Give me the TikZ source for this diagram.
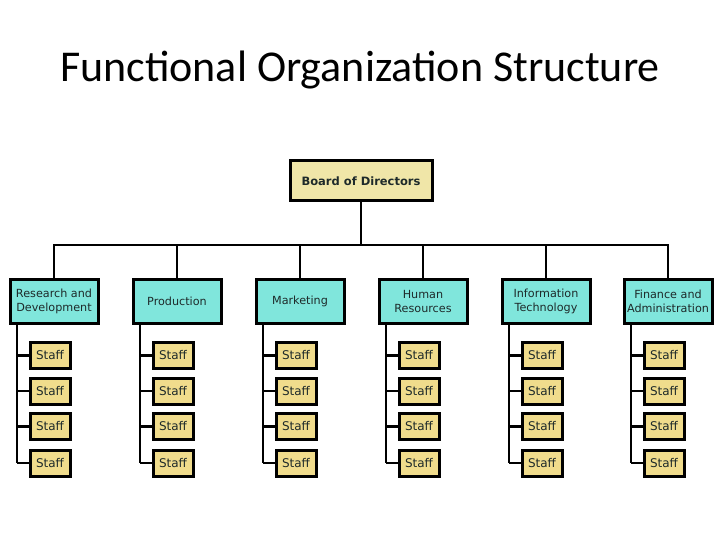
\documentclass[tikz,border=0pt]{standalone}
\usepackage{fontspec}
\setmainfont{DejaVu Sans}
\newfontfamily\titlefont{Carlito}
\definecolor{deptcol}{HTML}{80E6DC}
\definecolor{staffcol}{HTML}{F0DC8C}
\definecolor{boardcol}{HTML}{F0E6A8}
\definecolor{txtcol}{HTML}{1E2A2A}
\begin{document}
\begin{tikzpicture}[x=1pt,y=-1pt,
  box/.style={draw=black,line width=3pt,inner sep=0pt,text=txtcol,align=center},
  deptbox/.style={box,fill=deptcol,minimum width=88pt,minimum height=44pt,font=\fontsize{11.2}{14}\selectfont},
  staffbox/.style={box,fill=staffcol,minimum width=40pt,minimum height=26pt,font=\fontsize{12}{13}\selectfont},
  boardbox/.style={box,fill=boardcol,minimum width=142pt,minimum height=40pt,font=\bfseries\fontsize{11.5}{13}\selectfont},
  conn/.style={line width=2.6pt}]
\useasboundingbox (0,0) rectangle (720,540);
\node[anchor=base,font=\titlefont\fontsize{44}{50}\selectfont] (title) at (360,82) {Functional Organization Structure};
\node[boardbox] (board) at (361,181) {Board of Directors};
\coordinate (bus) at (361,245);
\foreach \i/\x/\t in {1/54/{Research and\\Development},2/177/Production,3/300/Marketing,4/423/{Human\\Resources},5/546/{Information\\Technology},6/668/{Finance and\\Administration}}{
  \node[deptbox] (d\i) at (\x,301) {\t};
  \coordinate (top\i) at (\x,245);
  \coordinate (vl\i) at (\x-37,323);
  \foreach \j/\y in {1/355.5,2/391,3/426.5,4/463}{
    \node[staffbox] (s\i\j) at (\x-4,\y) {Staff};
    \draw[conn] (s\i\j.west) -- (s\i\j.west -| vl\i);
  }
  \draw[conn] (vl\i) -- (s\i4.west -| vl\i);
  \draw[conn] (top\i) -- (d\i.north);
}
\draw[conn] (board.south) -- (bus);
\draw[conn,line cap=rect] (top1) -- (top6);
\end{tikzpicture}
\end{document}
